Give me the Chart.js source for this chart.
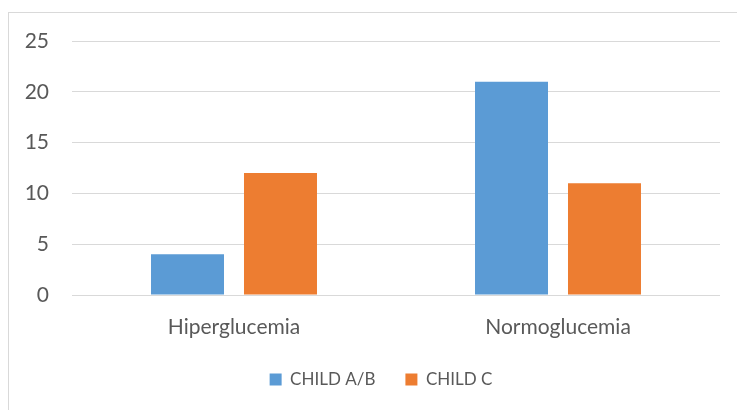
<!DOCTYPE html>
<html>
<head>
<meta charset="utf-8">
<script src="https://cdn.jsdelivr.net/npm/chart.js@4/dist/chart.umd.min.js"></script>
<style>
  html, body { margin: 0; padding: 0; background: #fff; }
  #wrap { position: relative; width: 737px; height: 410px; overflow: hidden; }
  #frame { position: absolute; left: 8px; top: 12px; width: 760px; height: 420px; border: 1px solid #d9d9d9; }
  canvas { position: absolute; left: 0; top: 0; }
</style>
</head>
<body>
<div id="wrap">
  <div id="frame"></div>
  <canvas id="chart" width="737" height="410"></canvas>
</div>
<script>
const categories = ['Hiperglucemia', 'Normoglucemia'];
const childAB = [4, 21];
const childC = [12, 11];
const yTicks = [0, 5, 10, 15, 20, 25];

const FONT = { family: 'Lato', size: 21 };
const TEXT = '#595959';

// legend sits a bit right of centre in the original
const legendShift = {
    id: 'legendShift',
    afterLayout(chart) {
        chart.legend.left += 21;
        chart.legend.right += 21;
    }
};

const ctx = document.getElementById('chart');
new Chart(ctx, {
    type: 'bar',
    data: {
        labels: categories,
        datasets: [
            { label: 'CHILD A/B', data: childAB, backgroundColor: '#5B9BD5' },
            { label: 'CHILD C', data: childC, backgroundColor: '#ED7D31' }
        ]
    },
    options: {
        responsive: false,
        animation: false,
        categoryPercentage: 0.574,
        barPercentage: 0.785,
        layout: { padding: { left: 0, right: 17, top: 41, bottom: 12 } },
        plugins: {
            legend: {
                position: 'bottom',
                labels: { color: TEXT, font: { family: 'Lato', size: 17 }, boxWidth: 12, boxHeight: 12, padding: 30 }
            },
            tooltip: { enabled: false }
        },
        scales: {
            x: {
                grid: { display: false, drawTicks: false },
                border: { display: false },
                ticks: { color: TEXT, font: FONT, padding: 20 },
                afterFit: (s) => { s.height = 46; }
            },
            y: {
                min: 0,
                max: 25,
                afterBuildTicks: (s) => { s.ticks = yTicks.map(v => ({ value: v })); },
                grid: { color: '#d9d9d9', lineWidth: 1, drawTicks: false },
                border: { display: false },
                ticks: { color: TEXT, font: FONT, padding: 23 },
                afterFit: (s) => { s.width = 72; }
            }
        }
    },
    plugins: [legendShift]
});
</script>
</body>
</html>
